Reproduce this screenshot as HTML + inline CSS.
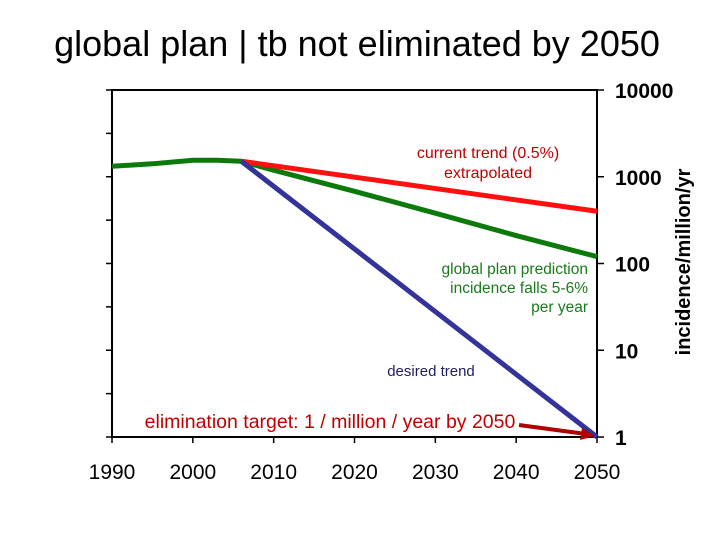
<!DOCTYPE html>
<html><head><meta charset="utf-8"><style>
body{margin:0;background:#fff;width:720px;height:540px;overflow:hidden}
svg{display:block;font-family:"Liberation Sans",sans-serif}
</style></head><body>
<svg id="c" width="720" height="540">
<text x="357" y="56" font-size="36" text-anchor="middle">global plan | tb not eliminated by 2050</text>
<g id="axes"></g><g id="marks"></g>
<text x="488" y="158" font-size="16" fill="#c00000" text-anchor="middle">current trend (0.5%)</text>
<text x="488" y="178" font-size="16" fill="#c00000" text-anchor="middle">extrapolated</text>
<text x="588" y="274" font-size="15.5" fill="#1a7a1a" text-anchor="end">global plan prediction</text>
<text x="588" y="293" font-size="15.5" fill="#1a7a1a" text-anchor="end">incidence falls 5-6%</text>
<text x="588" y="312" font-size="15.5" fill="#1a7a1a" text-anchor="end">per year</text>
<text x="431" y="376" font-size="15" fill="#202060" text-anchor="middle">desired trend</text>
<text x="330" y="428" font-size="19.5" fill="#c00000" text-anchor="middle">elimination target: 1 / million / year by 2050</text>
<text transform="translate(690,262) rotate(-90)" font-size="20" font-weight="bold" text-anchor="middle">incidence/million/yr</text>
</svg>
<script>
const years=[1990,1995,2000,2003,2006,2010,2020,2030,2040,2050];
const globalPlan=[1320,1410,1550,1550,1510,1190,680,380,210,120];
const trendYears=[2006,2050];
const currentTrend=[1510,400];
const desiredTrend=[1510,1];
const xTicks=[1990,2000,2010,2020,2030,2040,2050];
const yTicks=[1,10,100,1000,10000];
const L=112,R=597,T=90,B=437;
const x=v=>L+(v-1990)/60*(R-L);
const y=v=>B-Math.log10(v)/4*(B-T);
const NS="http://www.w3.org/2000/svg";
function mk(p,t,a){const e=document.createElementNS(NS,t);for(const k in a)e.setAttribute(k,a[k]);p.appendChild(e);return e;}
const ax=document.getElementById('axes'),mg=document.getElementById('marks');
let f=mk(ax,'rect',{x:L,y:T,width:R-L,height:B-T,fill:'none',stroke:'#000','stroke-width':2});


for(let i=0;i<=8;i++){const yy=T+i*(B-T)/8;const t=mk(ax,'line',{x1:L-6,x2:L,y1:yy,y2:yy,stroke:'#000','stroke-width':1.5});

}
yTicks.forEach(v=>{const yy=y(v);const t=mk(ax,'line',{x1:R,x2:R+7,y1:yy,y2:yy,stroke:'#000','stroke-width':1.5});


const tx=mk(ax,'text',{x:R+18,y:yy+8,'font-size':21,'font-weight':'bold'});tx.textContent=v;

});
xTicks.forEach(v=>{const xx=x(v);const t=mk(ax,'line',{x1:xx,x2:xx,y1:B,y2:B+6,stroke:'#000','stroke-width':1.5});


const tx=mk(ax,'text',{x:xx,y:479,'font-size':21,'text-anchor':'middle'});tx.textContent=v;

});
function line(xs,vs,c,n){const p=mk(mg,'polyline',{points:xs.map((v,i)=>x(v)+','+y(vs[i])).join(' '),fill:'none',stroke:c,'stroke-width':5,'stroke-linejoin':'round'});

}
line(years,globalPlan,'#0b7a0b','global-plan-line');
line(trendYears,currentTrend,'#ff1010','current-trend-line');
line(trendYears,desiredTrend,'#333399','desired-trend-line');
const a=mk(mg,'line',{x1:519,y1:425,x2:586,y2:434,stroke:'#b00000','stroke-width':4});


const h=mk(mg,'polygon',{points:'595,436 582,428 580,440',fill:'#b00000'});


</script>
</body></html>
